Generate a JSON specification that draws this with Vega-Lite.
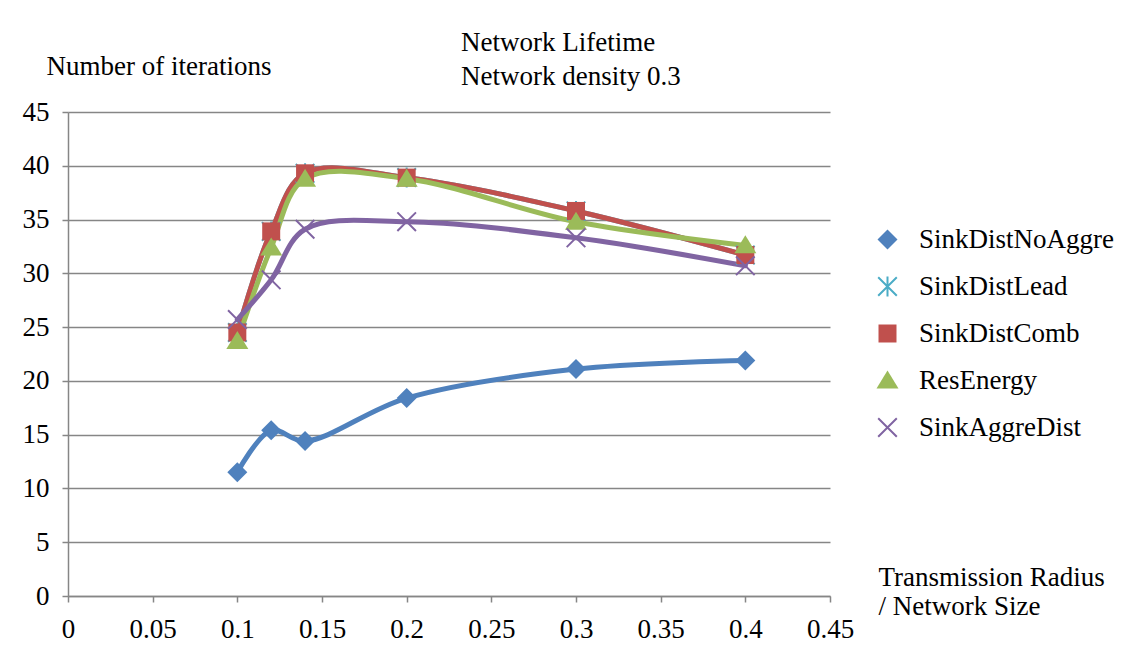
{
  "$schema": "https://vega.github.io/schema/vega-lite/v6.json",
  "autosize": "none",
  "width": 762,
  "height": 484,
  "padding": {"left": 68, "top": 112, "right": 310, "bottom": 57},
  "background": "white",
  "config": {
    "view": {"stroke": null},
    "axis": {"labelFont": "Liberation Serif", "titleFont": "Liberation Serif", "labelColor": "black", "titleColor": "black", "labelFontSize": 27, "titleFontSize": 27, "titleFontWeight": "normal", "domainColor": "#868686", "tickColor": "#868686", "gridColor": "#868686", "domainWidth": 1.5, "tickWidth": 1.5, "gridWidth": 1.5, "tickSize": 6},
    "legend": {"labelFont": "Liberation Serif", "labelFontSize": 27, "labelColor": "black", "labelLimit": 400}
  },
  "title": {
    "text": ["Network Lifetime", "Network density 0.3"],
    "anchor": "start",
    "frame": "group",
    "dx": 393,
    "dy": 49,
    "font": "Liberation Serif",
    "fontSize": 27,
    "fontWeight": "normal",
    "color": "black",
    "lineHeight": 34,
    "offset": 10
  },
  "data": {
    "values": [
      {"r": 0.1, "v": 11.5, "series": "SinkDistNoAggre"},
      {"r": 0.12, "v": 15.4, "series": "SinkDistNoAggre"},
      {"r": 0.14, "v": 14.4, "series": "SinkDistNoAggre"},
      {"r": 0.2, "v": 18.4, "series": "SinkDistNoAggre"},
      {"r": 0.3, "v": 21.1, "series": "SinkDistNoAggre"},
      {"r": 0.4, "v": 21.9, "series": "SinkDistNoAggre"},
      {"r": 0.1, "v": 24.5, "series": "SinkDistLead"},
      {"r": 0.12, "v": 33.9, "series": "SinkDistLead"},
      {"r": 0.14, "v": 39.3, "series": "SinkDistLead"},
      {"r": 0.2, "v": 38.9, "series": "SinkDistLead"},
      {"r": 0.3, "v": 35.8, "series": "SinkDistLead"},
      {"r": 0.4, "v": 31.7, "series": "SinkDistLead"},
      {"r": 0.1, "v": 24.5, "series": "SinkDistComb"},
      {"r": 0.12, "v": 33.9, "series": "SinkDistComb"},
      {"r": 0.14, "v": 39.3, "series": "SinkDistComb"},
      {"r": 0.2, "v": 38.9, "series": "SinkDistComb"},
      {"r": 0.3, "v": 35.8, "series": "SinkDistComb"},
      {"r": 0.4, "v": 31.7, "series": "SinkDistComb"},
      {"r": 0.1, "v": 23.7, "series": "ResEnergy"},
      {"r": 0.12, "v": 32.4, "series": "ResEnergy"},
      {"r": 0.14, "v": 38.8, "series": "ResEnergy"},
      {"r": 0.2, "v": 38.8, "series": "ResEnergy"},
      {"r": 0.3, "v": 34.8, "series": "ResEnergy"},
      {"r": 0.4, "v": 32.6, "series": "ResEnergy"},
      {"r": 0.1, "v": 25.7, "series": "SinkAggreDist"},
      {"r": 0.12, "v": 29.4, "series": "SinkAggreDist"},
      {"r": 0.14, "v": 34.1, "series": "SinkAggreDist"},
      {"r": 0.2, "v": 34.8, "series": "SinkAggreDist"},
      {"r": 0.3, "v": 33.3, "series": "SinkAggreDist"},
      {"r": 0.4, "v": 30.7, "series": "SinkAggreDist"}
    ]
  },
  "encoding": {
    "x": {
      "field": "r", "type": "quantitative",
      "scale": {"domain": [0, 0.45], "nice": false, "zero": false},
      "axis": {
        "values": [0, 0.05, 0.1, 0.15, 0.2, 0.25, 0.3, 0.35, 0.4, 0.45],
        "format": "~g",
        "grid": false,
        "labelPadding": 14,
        "labelFlush": false,
        "labelOverlap": false,
        "title": ["Transmission Radius", "/ Network Size"],
        "titleAlign": "left",
        "titleAnchor": null,
        "titleBaseline": "alphabetic",
        "titleX": 810,
        "titleY": -11,
        "titleLineHeight": 29
      }
    },
    "y": {
      "field": "v", "type": "quantitative",
      "scale": {"domain": [0, 45], "nice": false},
      "axis": {
        "values": [0, 5, 10, 15, 20, 25, 30, 35, 40, 45],
        "grid": true,
        "labelPadding": 13,
        "labelFlush": false,
        "labelOverlap": false,
        "title": "Number of iterations",
        "titleAngle": 0,
        "titleAlign": "left",
        "titleAnchor": null,
        "titleBaseline": "alphabetic",
        "titleX": -22,
        "titleY": -38
      }
    },
    "color": {
      "field": "series", "type": "nominal",
      "scale": {
        "domain": ["SinkDistNoAggre", "SinkDistLead", "SinkDistComb", "ResEnergy", "SinkAggreDist"],
        "range": ["#4F81BD", "#4BACC6", "#C0504D", "#9BBB59", "#8064A2"]
      },
      "legend": {
        "title": null,
        "orient": "none",
        "legendX": 806,
        "legendY": 114,
        "symbolSize": 400,
        "symbolStrokeWidth": 0,
        "rowPadding": 19,
        "labelOffset": 18
      }
    }
  },
  "layer": [
    {
      "mark": {"type": "line", "interpolate": "catmull-rom", "strokeWidth": 5, "strokeCap": "round", "strokeJoin": "round"}
    },
    {
      "mark": {"type": "point", "filled": true, "opacity": 1, "size": 400, "strokeWidth": 0},
      "encoding": {
        "shape": {
          "field": "series", "type": "nominal",
          "scale": {
            "domain": ["SinkDistNoAggre", "SinkDistLead", "SinkDistComb", "ResEnergy", "SinkAggreDist"],
            "range": [
              "M0,-1L1,0L0,1L-1,0Z",
              "M-1,-0.86L-0.86,-1L1,0.86L0.86,1Z M1,-0.86L-0.86,1L-1,0.86L0.86,-1Z M-0.1,-1H0.1V1H-0.1Z",
              "M-0.9,-0.9H0.9V0.9H-0.9Z",
              "M0,-1L1.1,0.8H-1.1Z",
              "M-1,-0.86L-0.86,-1L1,0.86L0.86,1Z M1,-0.86L-0.86,1L-1,0.86L0.86,-1Z"
            ]
          },
          "legend": {
            "title": null,
            "orient": "none",
            "legendX": 806,
            "legendY": 114,
            "symbolSize": 400,
            "symbolStrokeWidth": 0,
            "rowPadding": 19,
            "labelOffset": 18
          }
        }
      }
    }
  ]
}
